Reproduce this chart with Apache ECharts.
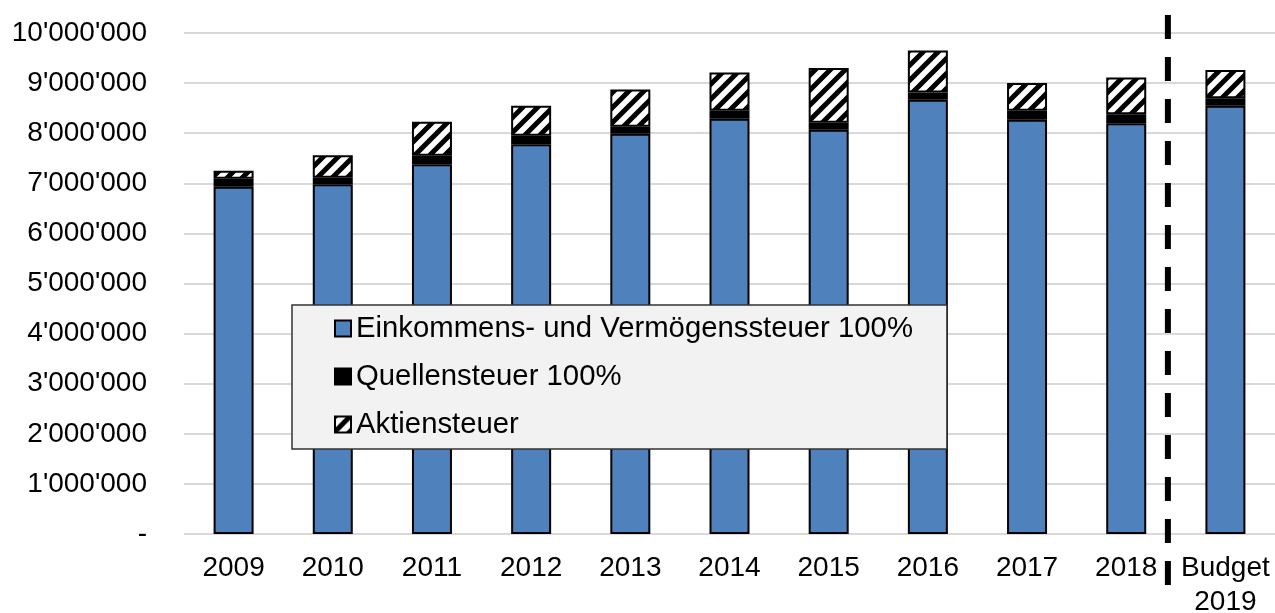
<!DOCTYPE html>
<html>
<head>
<meta charset="utf-8">
<script src="https://cdn.jsdelivr.net/npm/echarts@6/dist/echarts.min.js"></script>
<style>
  html, body { margin: 0; padding: 0; background: #fff; }
  #chart { width: 1275px; height: 613px; }
</style>
</head>
<body>
<div id="chart"></div>
<script>
// Werte (CHF)
var categories = ['2009', '2010', '2011', '2012', '2013', '2014', '2015', '2016', '2017', '2018', 'Budget\n2019'];
var einkommen = [6930000, 6980000, 7380000, 7780000, 7990000, 8290000, 8070000, 8670000, 8270000, 8200000, 8550000];
var quellen = [160000, 130000, 170000, 170000, 140000, 160000, 140000, 140000, 180000, 180000, 150000];
var aktien = [160000, 450000, 680000, 600000, 740000, 760000, 1090000, 840000, 550000, 730000, 560000];
var names = ['Einkommens- und Vermögenssteuer 100%', 'Quellensteuer 100%', 'Aktiensteuer'];

var font = "'Liberation Sans', Arial, sans-serif";

// Schraffur-Muster fuer Aktiensteuer
function hatch() {
    var s = 15;
    var c = document.createElement('canvas');
    c.width = s; c.height = s;
    var ctx = c.getContext('2d');
    ctx.fillStyle = '#fff';
    ctx.fillRect(0, 0, s, s);
    ctx.strokeStyle = '#000';
    ctx.lineWidth = 5;
    ctx.beginPath();
    ctx.moveTo(-s / 2, s / 2); ctx.lineTo(s / 2, -s / 2);
    ctx.moveTo(0, s); ctx.lineTo(s, 0);
    ctx.moveTo(s / 2, s * 1.5); ctx.lineTo(s * 1.5, s / 2);
    ctx.stroke();
    return c;
}

function fmt(v) {
    if (v === 0) return '-';
    return String(v).replace(/\B(?=(\d{3})+(?!\d))/g, "'");
}

var myChart = echarts.init(document.getElementById('chart'));
var option = {
    animation: false,
    textStyle: { fontFamily: font },
    grid: { left: 184, right: 0, top: 33, bottom: 79, containLabel: false, outerBoundsMode: 'none' },
    legend: {
        orient: 'vertical',
        left: 292,
        top: 305,
        padding: [9, 34, 10, 42],
        itemGap: 19,
        itemWidth: 16,
        itemHeight: 16,
        backgroundColor: '#f2f2f2',
        borderColor: '#333',
        borderWidth: 1.5,
        icon: 'rect',
        textStyle: { fontSize: 29.3, lineHeight: 28, color: '#000', fontFamily: font },
        data: names
    },
    xAxis: {
        type: 'category',
        data: categories,
        axisLine: { show: false },
        axisTick: { show: false },
        axisLabel: { fontSize: 28, lineHeight: 34, color: '#000', margin: 17, interval: 0 }
    },
    yAxis: {
        type: 'value',
        min: 0,
        max: 10000000,
        interval: 1000000,
        axisLine: { show: false },
        axisTick: { show: false },
        axisLabel: { fontSize: 28, color: '#000', margin: 37, formatter: fmt },
        splitLine: { lineStyle: { color: '#d9d9d9', width: 2 } }
    },
    series: [
        {
            name: names[0],
            type: 'bar',
            stack: 'total',
            barWidth: 40,
            data: einkommen,
            itemStyle: { color: '#4f81bd', borderColor: '#000', borderWidth: 2 }
        },
        {
            name: names[1],
            type: 'bar',
            stack: 'total',
            barWidth: 40,
            data: quellen,
            itemStyle: { color: '#000', borderColor: '#000', borderWidth: 2 }
        },
        {
            name: names[2],
            type: 'bar',
            stack: 'total',
            barWidth: 40,
            data: aktien,
            itemStyle: { color: { image: hatch(), repeat: 'repeat' }, borderColor: '#000', borderWidth: 2 }
        }
    ]
};
myChart.setOption(option);

// gestrichelte Trennlinie zwischen 2018 und Budget
var x18 = myChart.convertToPixel({ xAxisIndex: 0 }, 9);
var xB = myChart.convertToPixel({ xAxisIndex: 0 }, 10);
var yTop = myChart.convertToPixel({ yAxisIndex: 0 }, 10000000);
var yBot = myChart.convertToPixel({ yAxisIndex: 0 }, 0);
var xs = x18 + (xB - x18) * 0.42;
myChart.setOption({
    graphic: [{
        type: 'line',
        z: 10,
        shape: { x1: xs, y1: yTop - 18, x2: xs, y2: yBot + 51 },
        style: { stroke: '#000', lineWidth: 6, lineDash: [24, 18] }
    }]
});
</script>
</body>
</html>
